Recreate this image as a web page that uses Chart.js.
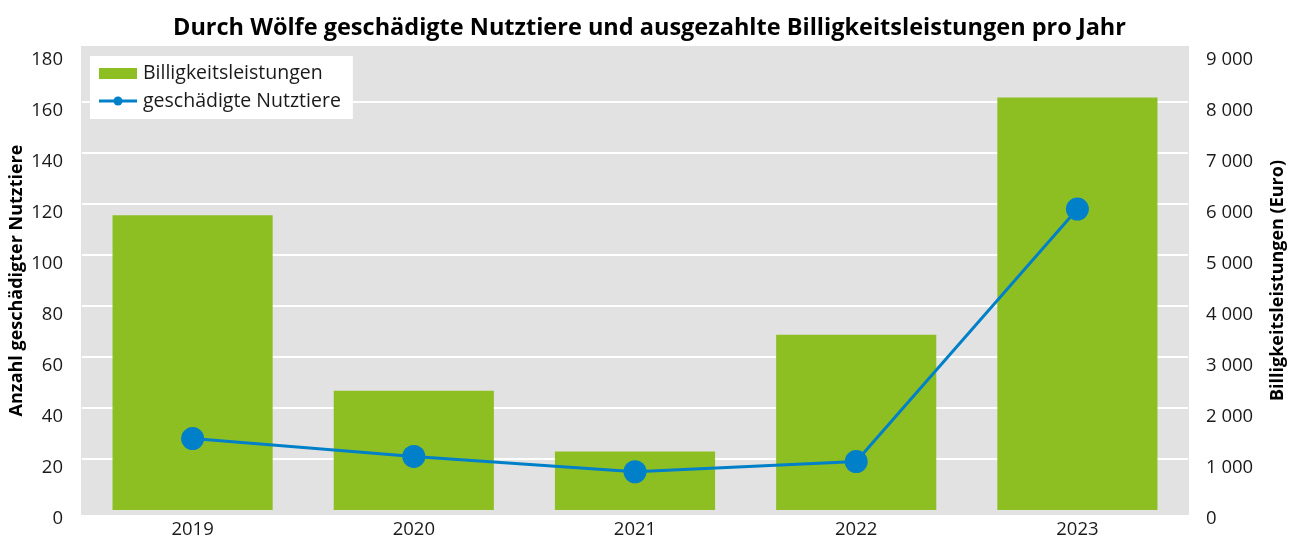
<!DOCTYPE html>
<html lang="de">
<head>
  <meta charset="UTF-8" />
  <title>Wolfsschäden</title>
  <script src="https://cdn.jsdelivr.net/npm/chart.js"></script>
  <style>
    * { margin: 0; padding: 0; box-sizing: border-box; }
    body { background: #fff; }
    .wrap { width: 1299px; height: 541px; }
  </style>
</head>
<body>
  <div class="wrap">
    <canvas id="chart" width="1299" height="541"></canvas>
  </div>

  <script>
    // data
    const years = ['2019', '2020', '2021', '2022', '2023'];
    const paymentsEuro = [5780, 2340, 1145, 3435, 8090];
    const damagedAnimals = [28, 21, 15, 19, 118];
    const leftTicks = [0, 20, 40, 60, 80, 100, 120, 140, 160, 180];
    const rightTicks = [0, 1000, 2000, 3000, 4000, 5000, 6000, 7000, 8000, 9000];

    const GREEN = '#8dbf23';
    const BLUE = '#0080c9';
    const FONT = "'Open Sans', sans-serif";

    const fmtEuro = v => String(v).replace(/\B(?=(\d{3})+(?!\d))/g, ' ');

    // grey plot background, a bit bigger than the chart area
    const plotBg = {
      id: 'plotBg',
      beforeDraw(chart) {
        const a = chart.chartArea, ctx = chart.ctx;
        ctx.save();
        ctx.fillStyle = '#e2e2e2';
        ctx.fillRect(a.left - 1, a.top - 5, a.right - a.left + 2, a.bottom - a.top + 10);
        ctx.restore();
      }
    };

    // legend box inside the plot + right axis title (reads bottom to top)
    const extras = {
      id: 'extras',
      afterDraw(chart) {
        const a = chart.chartArea, ctx = chart.ctx;
        const bar = chart.data.datasets[1], line = chart.data.datasets[0];
        ctx.save();
        ctx.font = '19.5px ' + FONT;
        const tw = Math.max(ctx.measureText(bar.label).width, ctx.measureText(line.label).width);
        const x0 = a.left + 8, y0 = a.top + 5;
        ctx.fillStyle = '#fff';
        ctx.fillRect(x0, y0, 53 + tw + 12, 63);

        ctx.fillStyle = GREEN;
        ctx.fillRect(x0 + 9, y0 + 12, 38, 11);

        ctx.strokeStyle = BLUE;
        ctx.lineWidth = 3;
        ctx.beginPath();
        ctx.moveTo(x0 + 9, y0 + 45);
        ctx.lineTo(x0 + 47, y0 + 45);
        ctx.stroke();
        ctx.fillStyle = BLUE;
        ctx.beginPath();
        ctx.arc(x0 + 28, y0 + 45, 4.5, 0, Math.PI * 2);
        ctx.fill();

        ctx.fillStyle = '#1a1a1a';
        ctx.textBaseline = 'middle';
        ctx.textAlign = 'left';
        ctx.fillText(bar.label, x0 + 53, y0 + 17);
        ctx.fillText(line.label, x0 + 53, y0 + 45);

        ctx.translate(1278, (a.top + a.bottom) / 2);
        ctx.rotate(-Math.PI / 2);
        ctx.textAlign = 'center';
        ctx.font = 'bold 18px ' + FONT;
        ctx.fillStyle = '#000';
        ctx.fillText('Billigkeitsleistungen (Euro)', 0, 0);
        ctx.restore();
      }
    };

    const gridColor = ctx => {
      const v = ctx.tick && ctx.tick.value;
      return (v > 0 && v < 180) ? '#ffffff' : 'rgba(0,0,0,0)';
    };

    new Chart(document.getElementById('chart'), {
      data: {
        labels: years,
        datasets: [
          {
            type: 'line',
            label: 'geschädigte Nutztiere',
            data: damagedAnimals,
            yAxisID: 'y',
            borderColor: BLUE,
            backgroundColor: BLUE,
            borderWidth: 3,
            pointRadius: 11.5,
            pointBorderWidth: 0,
            tension: 0,
            order: 0
          },
          {
            type: 'bar',
            label: 'Billigkeitsleistungen',
            data: paymentsEuro,
            yAxisID: 'y1',
            backgroundColor: GREEN,
            categoryPercentage: 1,
            barPercentage: 0.724,
            order: 1
          }
        ]
      },
      options: {
        responsive: false,
        animation: false,
        layout: { padding: 0 },
        plugins: {
          legend: { display: false },
          tooltip: { enabled: false },
          title: {
            display: true,
            text: 'Durch Wölfe geschädigte Nutztiere und ausgezahlte Billigkeitsleistungen pro Jahr',
            color: '#000',
            font: { family: FONT, size: 23.5, weight: 'bold', lineHeight: 1.2 },
            padding: { top: 14, bottom: 8.8 }
          }
        },
        scales: {
          x: {
            grid: { display: false, drawTicks: false },
            border: { display: false },
            ticks: { color: '#1a1a1a', font: { family: FONT, size: 18.5 }, padding: 9 },
            afterFit: s => { s.height = 31; }
          },
          y: {
            position: 'left',
            min: 0,
            max: 180,
            afterBuildTicks: s => { s.ticks = leftTicks.map(v => ({ value: v })); },
            grid: { color: gridColor, lineWidth: 2, drawTicks: false },
            border: { display: false },
            ticks: { color: '#1a1a1a', font: { family: FONT, size: 18.5 }, padding: 19, labelOffset: 9 },
            title: {
              display: true,
              text: 'Anzahl geschädigter Nutztiere',
              color: '#000',
              font: { family: FONT, size: 18, weight: 'bold', lineHeight: 1.2 },
              padding: { top: 6, bottom: 0 }
            },
            afterFit: s => { s.width = 82; }
          },
          y1: {
            position: 'right',
            min: 0,
            max: 9000,
            afterBuildTicks: s => { s.ticks = rightTicks.map(v => ({ value: v })); },
            grid: { display: false, drawTicks: false },
            border: { display: false },
            ticks: {
              color: '#1a1a1a',
              font: { family: FONT, size: 18.5 },
              padding: 18,
              labelOffset: 9,
              callback: v => fmtEuro(v)
            },
            afterFit: s => { s.width = 111; }
          }
        }
      },
      plugins: [plotBg, extras]
    });
  </script>
</body>
</html>
